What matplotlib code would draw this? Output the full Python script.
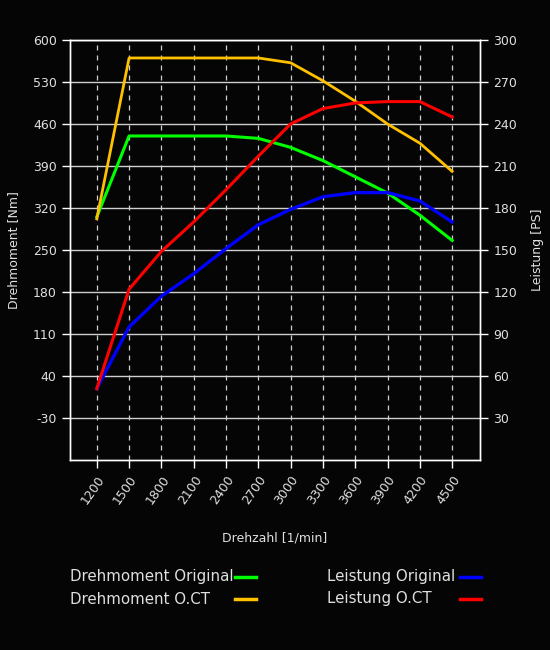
import matplotlib
matplotlib.use("Agg")
import matplotlib.pyplot as plt
from matplotlib.lines import Line2D

# Drehzahl [1/min]
rpm = [1200, 1500, 1800, 2100, 2400, 2700, 3000, 3300, 3600, 3900, 4200, 4500]

# Drehmoment [Nm]
torque_orig = [305, 440, 440, 440, 440, 436, 421, 399, 372, 345, 308, 266]
torque_oct = [302, 570, 570, 570, 570, 570, 562, 532, 498, 460, 428, 381]

# Leistung [PS]
power_orig = [51, 95, 117, 133, 151, 168, 179, 188, 191, 191, 185, 170]
power_oct = [51, 122, 149, 170, 193, 217, 240, 251, 255, 256, 256, 245]

torque_ticks = [-30, 40, 110, 180, 250, 320, 390, 460, 530, 600]
power_ticks = [30, 60, 90, 120, 150, 180, 210, 240, 270, 300]

series_names = ["Drehmoment Original", "Drehmoment O.CT",
                "Leistung Original", "Leistung O.CT"]
series_colors = ["#00ff00", "#ffc000", "#0000ff", "#ff0000"]

BG = "#050505"
FG = "#e0e0e0"
GRID = "#cfcfcf"

plt.rcParams["font.family"] = ["DejaVu Sans"]
plt.rcParams["axes.unicode_minus"] = False

fig = plt.figure(figsize=(5.5, 6.5), dpi=100, facecolor=BG)
ax = fig.add_axes([0.127, 0.2923, 0.746, 0.6462], facecolor=BG)
ax2 = ax.twinx()

ax.set_xlim(950, 4760)
ax.set_ylim(-100, 600)
ax2.set_ylim(0, 300)

ax.set_xticks(rpm)
ax.set_xticklabels([str(r) for r in rpm], rotation=55, ha="right",
                   rotation_mode="anchor")
ax.set_yticks(torque_ticks)
ax2.set_yticks(power_ticks)

# grid
for t in torque_ticks:
    ax.axhline(t, color=GRID, lw=1, zorder=0)
for r in rpm:
    ax.axvline(r, color=GRID, lw=0.9, ls=(0, (4, 4)), zorder=0)

for a in (ax, ax2):
    for s in a.spines.values():
        s.set_color("white")
        s.set_linewidth(1)
    a.tick_params(colors=FG, labelsize=9, length=6, width=1, direction="out")
    a.tick_params(axis="both", color="white")

ax.plot(rpm, torque_orig, color=series_colors[0], lw=2.2)
ax.plot(rpm, torque_oct, color=series_colors[1], lw=2.0)
ax2.plot(rpm, power_orig, color=series_colors[2], lw=2.4)
ax2.plot(rpm, power_oct, color=series_colors[3], lw=2.2)

ax.set_ylabel("Drehmoment [Nm]", color=FG, fontsize=9, labelpad=9)
ax2.set_ylabel("Leistung [PS]", color=FG, fontsize=9, labelpad=10)
ax.set_xlabel("Drehzahl [1/min]", color=FG, fontsize=9, labelpad=18)

# legend: label first, short line swatch after it, two columns
W, H = 550.0, 650.0
col_text_x = [70, 327]
col_line_x = [(235, 256), (460, 481)]
row_y = [577, 599]
for i, (name, col) in enumerate(zip(series_names, series_colors)):
    c, r = divmod(i, 2)
    fy = 1 - row_y[r] / H
    fig.text(col_text_x[c] / W, fy, name, color=FG, fontsize=10.8,
             ha="left", va="center")
    x0, x1 = col_line_x[c]
    fig.add_artist(Line2D([x0 / W, x1 / W], [fy, fy], color=col, lw=2.5,
                          transform=fig.transFigure))

fig.savefig("out.png", dpi=100, facecolor=BG)
